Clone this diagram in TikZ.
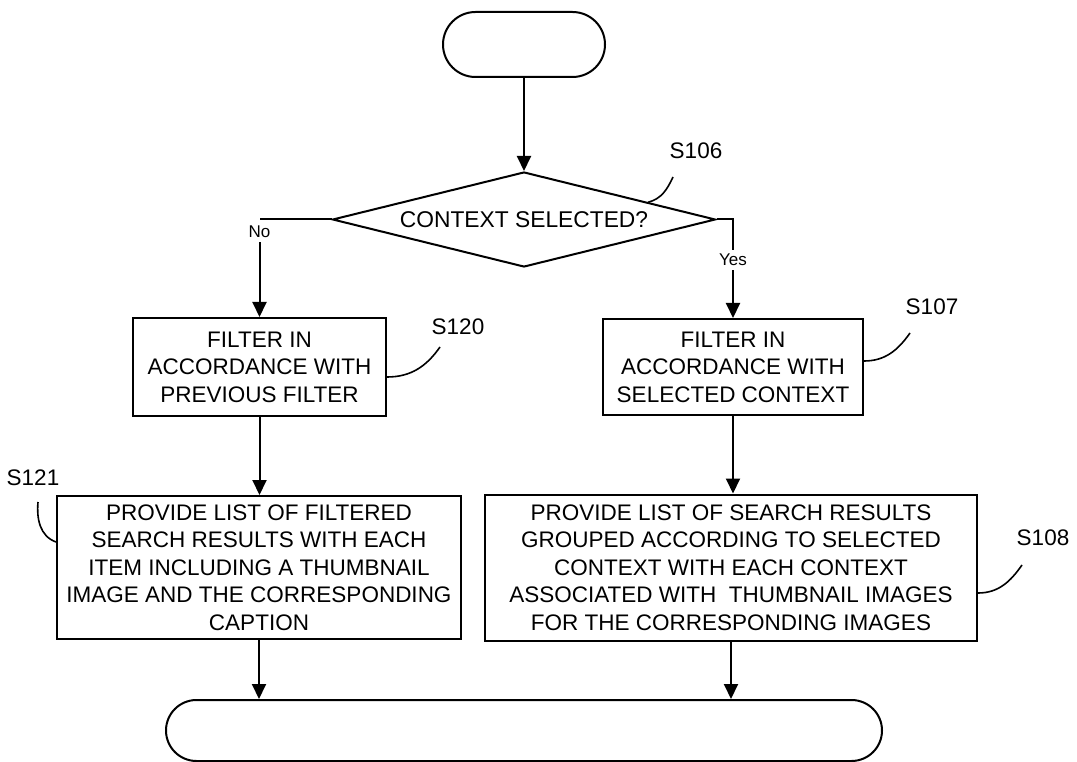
\documentclass[tikz,border=0pt]{standalone}
\usepackage{fontspec}
\setmainfont{Liberation Sans}
\usetikzlibrary{shapes.geometric,shapes.misc,arrows.meta,calc}
\begin{document}
\begin{tikzpicture}[x=1pt,y=-1pt,
  lw/.style={line width=2pt},
  box/.style={draw,lw,rectangle,align=center,inner sep=0pt,font=\fontsize{22.5}{27.5}\selectfont},
  term/.style={draw,lw,rounded rectangle,inner sep=0pt},
  dec/.style={draw,lw,diamond,aspect=4,inner sep=0pt,minimum width=383pt,minimum height=95pt,font=\fontsize{22.8}{27.5}\selectfont},
  lab/.style={font=\fontsize{22.5}{27}\selectfont,inner sep=0pt},
  yn/.style={font=\fontsize{17}{20}\selectfont,inner xsep=1pt,inner ysep=4pt},
  flow/.style={lw,-{Triangle[length=15pt,width=14pt]}},
  lead/.style={line width=1.6pt},
]
\useasboundingbox (0,0) rectangle (1077,762);

\node[term,minimum width=162pt,minimum height=65pt] (start) at (524,44.5) {};
\node[dec] (dia) at (524,219.5) {CONTEXT SELECTED?};
\node[box,minimum width=253pt,minimum height=98pt] (s120) at (259.5,367) {FILTER IN\\ACCORDANCE WITH\\PREVIOUS FILTER};
\node[box,minimum width=260pt,minimum height=96pt] (s107) at (733,367) {FILTER IN\\ACCORDANCE WITH\\SELECTED CONTEXT};
\node[box,minimum width=404pt,minimum height=143pt] (s121) at (259,567.5) {PROVIDE LIST OF FILTERED\\SEARCH RESULTS WITH EACH\\ITEM INCLUDING A THUMBNAIL\\IMAGE AND THE CORRESPONDING\\CAPTION};
\node[box,minimum width=492pt,minimum height=146pt] (s108) at (731,567.5) {PROVIDE LIST OF SEARCH RESULTS\\GROUPED ACCORDING TO SELECTED\\CONTEXT WITH EACH CONTEXT\\ASSOCIATED WITH~ THUMBNAIL IMAGES\\FOR THE CORRESPONDING IMAGES};
\node[term,minimum width=716pt,minimum height=61pt] (end) at (524,730.5) {};

\node[yn] (no) at (s120.north |- 0,232) {No};
\node[yn] (yes) at (s107.north |- 0,260) {Yes};

\draw[flow] (start.south) -- (dia.north);
\draw[lw] (dia.west) -- (dia.west -| no.north);
\draw[flow] (no.south) -- (s120.north);
\draw[lw] (dia.east) -| (yes.north);
\draw[flow] (yes.south) -- (s107.north);
\draw[flow] (s120.south) -- (s120.south |- s121.north);
\draw[flow] (s107.south) -- (s107.south |- s108.north);
\draw[flow] (s121.south) -- (s121.south |- end.north);
\draw[flow] (s108.south) -- (s108.south |- end.north);

\node[lab] (l106) at (696,151) {S106};
\node[lab] (l120) at (458,327) {S120};
\node[lab] (l121) at (33,478) {S121};
\node[lab] (l107) at (932,307) {S107};
\node[lab] (l108) at (1043,538) {S108};

\coordinate (e106) at (673,177);
\coordinate (e120) at (440,347);
\coordinate (e121) at (38,502);
\coordinate (e107) at (910,333);
\coordinate (e108) at (1022,565);

\draw[lead] ($(dia.north)!0.645!(dia.east)$) to[out=15,in=-115] (e106);
\draw[lead] (s120.east |- 0,377) to[out=0,in=-125] (e120);
\draw[lead] (s107.east |- 0,361) to[out=0,in=-125] (e107);
\draw[lead] (s108.east |- 0,593) to[out=0,in=-125] (e108);
\draw[lead] (e121) to[out=-95,in=160] (s121.west |- 0,542);
\end{tikzpicture}
\end{document}
